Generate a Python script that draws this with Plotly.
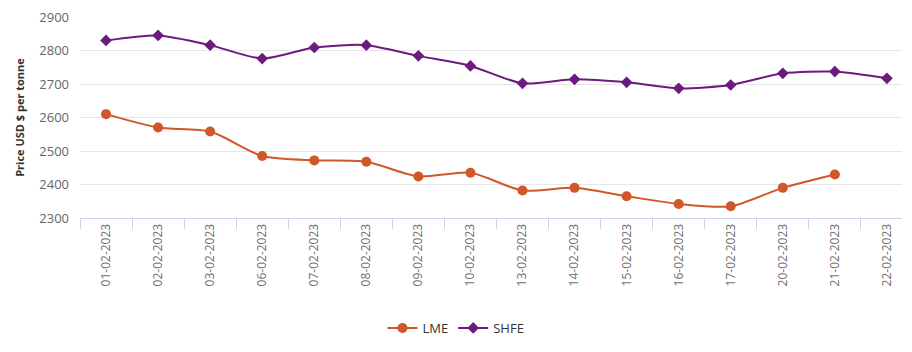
import plotly.graph_objects as go

dates = ["01-02-2023", "02-02-2023", "03-02-2023", "06-02-2023", "07-02-2023",
         "08-02-2023", "09-02-2023", "10-02-2023", "13-02-2023", "14-02-2023",
         "15-02-2023", "16-02-2023", "17-02-2023", "20-02-2023", "21-02-2023",
         "22-02-2023"]
lme = [2610, 2570, 2558, 2485, 2472, 2468, 2424, 2435, 2382, 2390, 2365, 2342,
       2335, 2390, 2430, None]
shfe = [2830, 2845, 2816, 2776, 2809, 2816, 2784, 2754, 2702, 2714, 2705, 2687,
        2697, 2732, 2737, 2717]
yticks = [2300, 2400, 2500, 2600, 2700, 2800, 2900]

W, H = 912, 352
L, R, T, B = 80, 902, 17, 218

fig = go.Figure()
fig.add_trace(go.Scatter(
    x=dates, y=lme, name="LME", mode="lines+markers",
    line=dict(color="#d0572a", width=2, shape="spline", smoothing=0.7),
    marker=dict(symbol="circle", size=10, color="#d0572a"),
))
fig.add_trace(go.Scatter(
    x=dates, y=shfe, name="SHFE", mode="lines+markers",
    line=dict(color="#6b1a7e", width=2, shape="spline", smoothing=0.7),
    marker=dict(symbol="diamond", size=9, color="#6b1a7e"),
))

fig.update_layout(
    width=W, height=H,
    margin=dict(l=L, r=W - R, t=T, b=H - B, autoexpand=False),
    paper_bgcolor="white", plot_bgcolor="white",
    font=dict(family="Open Sans, DejaVu Sans, sans-serif", color="#666666", size=12),
    showlegend=True,
    legend=dict(orientation="h", x=0.5, xanchor="center", xref="container",
                y=(H - 328) / H, yref="container", yanchor="middle",
                font=dict(size=13, color="#333333"), itemwidth=30),
    xaxis=dict(
        type="category", range=[-0.5, 15.29],
        tickangle=-90, ticks="outside", tickson="boundaries",
        ticklen=10, tickcolor="#ccd6eb", showline=True, linecolor="#ccd6eb",
        showgrid=False, tickfont=dict(size=12, color="#707070"),
    ),
    yaxis=dict(
        range=[2300, 2900], tickvals=yticks, showgrid=True, gridcolor="#e6e6e6",
        zeroline=False, tickfont=dict(size=13, color="#666666"),
        ticklabelstandoff=10,
        title=dict(text="<b>Price USD $ per tonne</b>", standoff=12,
                   font=dict(size=11, color="#333333")),
    ),
)

fig.write_html("out.html")
